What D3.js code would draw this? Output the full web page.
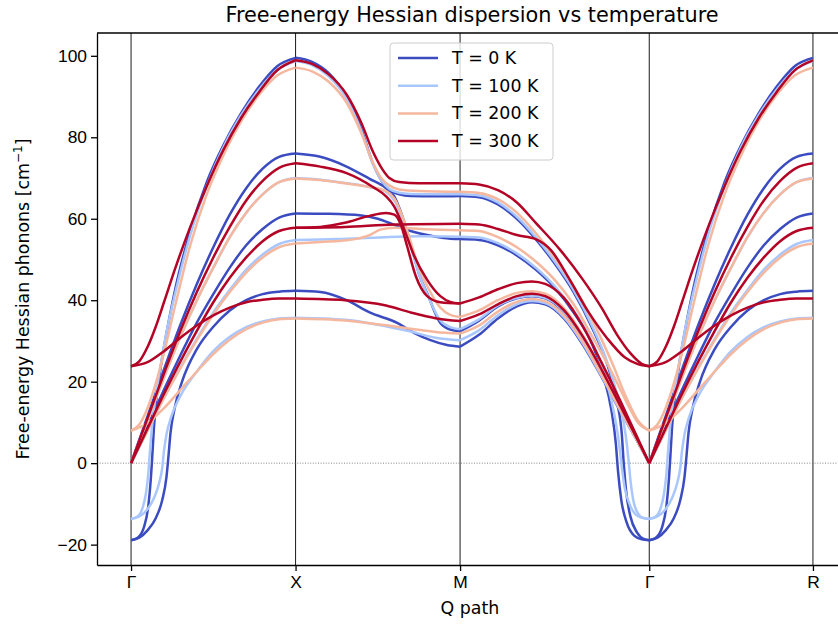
<!DOCTYPE html>
<html>
<head>
<meta charset="utf-8">
<style>
body { margin: 0; background: white; }
svg { font-family: "DejaVu Sans", sans-serif; }
.axis text { font-size: 17.4px; fill: black; }
.axis path, .axis line { stroke: black; stroke-width: 1.3; }
</style>
<script src="https://d3js.org/d3.v7.min.js"></script>
</head>
<body>
<svg id="chart" width="838" height="626"></svg>
<script>
// high-symmetry points along the q path
var qTicks = [0, 1, 2, 3.15, 4.145];
var tickLabels = ["Γ", "X", "M", "Γ", "R"];
var temps = [0, 100, 200, 300];
var colors = ["#3b4cc0", "#aac7fd", "#f5b89e", "#b40426"];

// each band: [fraction along segment, frequency in cm^-1]
// Γ -> X  (the Γ -> R leg reads the same in the picture)
var gxT0 = [
 [[0,-18.9],[.04,-18.3],[.08,-15.5],[.105,-10.5],[.12,-4],[.128,1],[.138,8],[.155,16],[.19,26],[.23,35],[.27,43],[.36,57],[.46,69],[.56,78],[.67,86],[.78,92.5],[.89,97.5],[1,99.5]],
 [[0,0],[.1,11.5],[.2,23],[.3,34],[.4,44],[.5,53],[.6,61],[.7,67.5],[.8,72.3],[.9,75.2],[1,76]],
 [[0,0],[.1,9],[.2,18],[.3,26.5],[.4,34.5],[.5,41.5],[.6,48],[.7,53.5],[.8,57.5],[.9,60.3],[1,61.3]],
 [[0,-18.9],[.05,-18.3],[.1,-16.5],[.15,-13.5],[.19,-9],[.215,-3.5],[.228,2],[.24,7.5],[.265,13.5],[.31,20],[.4,28],[.5,33.5],[.6,37.5],[.7,40],[.8,41.5],[.9,42.1],[1,42.3]]
];
var gxT100 = [
 [[0,-13.7],[.04,-13.1],[.07,-11],[.09,-7.5],[.105,-2.5],[.113,2],[.125,8],[.145,15],[.18,24],[.22,33],[.27,42],[.36,56],[.46,68],[.56,77.5],[.67,85.5],[.78,91.8],[.89,96.5],[1,98.7]],
 [[0,0],[.1,10.5],[.2,21],[.3,31],[.4,40],[.5,48],[.6,55.5],[.7,61.5],[.8,66],[.9,69],[1,70]],
 [[0,0],[.1,8],[.2,16],[.3,23.5],[.4,30.5],[.5,37],[.6,42.5],[.7,47.5],[.8,51.2],[.9,53.8],[1,54.8]],
 [[0,-13.7],[.05,-13.1],[.1,-11.3],[.14,-8.5],[.17,-5],[.19,-1],[.2,3],[.215,7],[.245,11.5],[.3,16.5],[.4,22.5],[.5,27.5],[.6,31],[.7,33.4],[.8,34.8],[.9,35.5],[1,35.7]]
];
var gxT200 = [
 [[0,8],[.05,9.5],[.1,13.5],[.15,19.5],[.2,27],[.27,39],[.36,53.5],[.46,66],[.56,75.5],[.67,84],[.78,90.5],[.89,95.2],[1,97.1]],
 [[0,0],[.1,10.5],[.2,21],[.3,31],[.4,40],[.5,48],[.6,55.5],[.7,61.5],[.8,66],[.9,69],[1,69.9]],
 [[0,0],[.1,8],[.2,16],[.3,23.3],[.4,30.2],[.5,36.5],[.6,42],[.7,46.8],[.8,50.5],[.9,53],[1,53.9]],
 [[0,8],[.1,9.8],[.2,13.5],[.3,18],[.4,22.5],[.5,26.8],[.6,30.3],[.7,32.9],[.8,34.5],[.9,35.3],[1,35.5]]
];
var gxT300 = [
 [[0,23.8],[.05,25],[.1,28.5],[.15,33.5],[.2,39.5],[.27,48],[.36,58],[.46,68],[.56,76.8],[.67,84.8],[.78,91.2],[.89,96.5],[1,98.9]],
 [[0,0],[.1,11],[.2,22],[.3,32.5],[.4,42],[.5,50.5],[.6,58],[.7,64.5],[.8,69.3],[.9,72.5],[1,73.6]],
 [[0,0],[.1,8.5],[.2,17],[.3,25],[.4,32.5],[.5,39.5],[.6,45.5],[.7,50.5],[.8,54.5],[.9,57],[1,57.8]],
 [[0,23.8],[.1,24.8],[.2,27.5],[.3,30.8],[.4,33.8],[.5,36.3],[.6,38.2],[.7,39.5],[.8,40.1],[.9,40.4],[1,40.4]]
];

// X -> M
var xmT0 = [
 [[0,99.5],[.1,98.5],[.2,95.8],[.31,90],[.4,82],[.47,73.6],[.52,69.5],[.57,67],[.63,66],[.7,65.6],[.85,65.5],[1,65.6]],
 [[0,76],[.15,75.2],[.3,73],[.45,69.8],[.55,67.5],[.6,65.5],[.65,60.5],[.71,52.3],[.75,46.5],[.8,41.7],[.88,34.4],[.94,32.8],[1,32.4]],
 [[0,61.3],[.2,61.2],[.4,60.8],[.5,60],[.6,58.5],[.7,57],[.8,56],[.9,55.3],[1,55]],
 [[0,42.3],[.15,42],[.31,40],[.45,37],[.62,34.4],[.72,32],[.82,30.2],[.92,29],[1,28.6]]
];
var xmT100 = [
 [[0,98.7],[.1,97.7],[.2,95],[.31,89.5],[.4,81.5],[.47,73.5],[.52,69.5],[.57,67.3],[.63,66.4],[.7,66.1],[.85,66],[1,66]],
 [[0,70],[.15,69.6],[.3,68.8],[.45,67.8],[.55,66.6],[.6,64.5],[.65,60],[.71,52],[.75,46.5],[.8,41.5],[.88,35],[.94,33.4],[1,32.9]],
 [[0,54.8],[.25,55],[.5,55.4],[.75,55.7],[1,55.6]],
 [[0,35.7],[.3,35.2],[.5,34],[.7,32.3],[.85,30.8],[1,30.2]]
];
var xmT200 = [
 [[0,97.1],[.1,96.2],[.2,93.7],[.31,88.5],[.4,81],[.47,73.8],[.52,70],[.57,68.2],[.63,67.2],[.75,66.8],[1,66.6]],
 [[0,69.9],[.15,69.5],[.3,68.7],[.45,67.8],[.55,66.8],[.6,65],[.65,60.5],[.71,53],[.75,48],[.8,43.5],[.88,38.2],[.94,36.4],[1,35.9]],
 [[0,53.9],[.15,54.3],[.31,54.7],[.45,56],[.52,57.4],[.6,57.8],[.8,57.4],[1,57.2]],
 [[0,35.5],[.3,35],[.5,34.1],[.7,33],[.85,32.2],[1,31.8]]
];
var xmT300 = [
 [[0,98.9],[.1,98],[.2,95.5],[.31,90.5],[.4,83.5],[.47,76.5],[.53,72],[.57,70],[.63,69],[.75,68.7],[1,68.7]],
 [[0,73.6],[.15,72.8],[.31,71.2],[.47,67.8],[.55,65.5],[.6,63],[.65,58.5],[.72,51],[.8,45],[.88,41],[.94,39.6],[1,39.2]],
 [[0,57.8],[.15,58],[.3,59],[.45,60.7],[.55,61.4],[.6,61],[.64,58.5],[.68,53],[.73,46],[.8,41],[.88,39.5],[1,39.2]],
 [[0,57.8],[.3,58],[.6,58.6],[1,58.8]],
 [[0,40.4],[.3,40],[.55,38.7],[.7,37],[.85,35.6],[1,34.9]]
];

// M -> Γ
var mgT0 = [
 [[0,65.6],[.1,65.3],[.2,63.5],[.3,60],[.4,55],[.5,49],[.6,42],[.7,33],[.78,24],[.83,15],[.855,7],[.865,0],[.878,-7],[.9,-13],[.935,-17],[.97,-18.6],[1,-18.9]],
 [[0,55],[.1,54.8],[.2,53.5],[.3,51],[.4,47.5],[.5,43],[.6,37],[.7,29],[.76,21],[.8,13],[.823,5],[.835,-2],[.852,-9],[.88,-14.5],[.92,-17.8],[.96,-18.7],[1,-18.9]],
 [[0,32.4],[.1,35],[.2,38.5],[.3,40.5],[.38,41],[.45,40.5],[.55,37],[.65,30.5],[.75,22],[.85,13],[.93,6],[1,0]],
 [[0,28.6],[.1,31.5],[.2,35.5],[.3,38.5],[.38,39.5],[.45,39],[.55,35.5],[.65,29],[.75,21],[.85,12.5],[.93,6],[1,0]]
];
var mgT100 = [
 [[0,66],[.1,65.7],[.2,64],[.3,60.5],[.4,55.5],[.5,49.5],[.6,42.5],[.7,33.5],[.78,24.5],[.84,15],[.875,7],[.89,1],[.9,-4],[.915,-9],[.94,-12.3],[.97,-13.5],[1,-13.7]],
 [[0,55.6],[.1,55.4],[.2,54],[.3,51.5],[.4,48],[.5,43.5],[.6,37.5],[.7,29.5],[.77,21],[.815,12],[.84,5],[.855,-1],[.87,-6],[.9,-10.5],[.94,-13],[1,-13.7]],
 [[0,32.9],[.1,35.3],[.2,38.7],[.3,40.6],[.38,41.1],[.45,40.6],[.55,37.2],[.65,30.7],[.75,22.2],[.85,13.2],[.93,6.1],[1,0]],
 [[0,30.2],[.1,32.6],[.2,36.3],[.3,39],[.38,39.8],[.45,39.3],[.55,35.8],[.65,29.3],[.75,21.2],[.85,12.6],[.93,6],[1,0]]
];
var mgT200 = [
 [[0,66.6],[.1,66.3],[.2,64.8],[.3,61.5],[.4,56.5],[.5,50.5],[.6,43.5],[.7,35],[.8,25],[.88,16],[.94,10.5],[1,8]],
 [[0,57.2],[.1,57],[.2,55.5],[.3,53],[.4,49.5],[.5,45],[.6,39],[.7,31],[.8,22.5],[.88,15],[.94,10],[1,8]],
 [[0,35.9],[.1,37.5],[.2,40],[.3,41.8],[.38,42.2],[.45,41.6],[.55,38],[.65,31.3],[.75,22.7],[.85,13.5],[.93,6.3],[1,0]],
 [[0,31.8],[.1,33.8],[.2,37.2],[.3,39.6],[.38,40.3],[.45,39.7],[.55,36.2],[.65,29.7],[.75,21.5],[.85,12.8],[.93,6.1],[1,0]]
];
var mgT300 = [
 [[0,68.7],[.1,68.4],[.2,67],[.3,64],[.4,59],[.53,52.3],[.65,45],[.75,38],[.83,31.5],[.9,27],[.96,24.4],[1,23.8]],
 [[0,58.8],[.1,58.6],[.2,57.5],[.3,56],[.4,55],[.48,52.3],[.58,45],[.68,37],[.78,30.5],[.87,26],[.94,24.3],[1,23.8]],
 [[0,39.2],[.1,40.7],[.2,42.7],[.3,44.2],[.38,44.6],[.45,44],[.55,40.5],[.65,33.5],[.75,24.5],[.85,15],[.93,7],[1,0]],
 [[0,34.9],[.1,36.5],[.2,39],[.3,41],[.38,41.6],[.45,41],[.55,37.5],[.65,31],[.75,22.8],[.85,13.8],[.93,6.5],[1,0]]
];

var bands = {
  GX: [gxT0, gxT100, gxT200, gxT300],
  XM: [xmT0, xmT100, xmT200, xmT300],
  MG: [mgT0, mgT100, mgT200, mgT300]
};
// legs of the path: [start tick, end tick, band table]
var legs = [[0, 1, "GX"], [1, 2, "XM"], [2, 3, "MG"], [3, 4, "GX"]];

var svg = d3.select("#chart");
var pLeft = 97, pRight = 847, pTop = 33, pBottom = 565;

var x = d3.scaleLinear().domain([-0.207, 4.352]).range([pLeft, pRight]);
var y = d3.scaleLinear().domain([-25.0, 105.6]).range([pBottom, pTop]);

// vertical lines at the high-symmetry points
svg.append("g").selectAll("line").data(qTicks).enter().append("line")
  .attr("x1", d => x(d)).attr("x2", d => x(d))
  .attr("y1", pTop).attr("y2", pBottom)
  .attr("stroke", "black").attr("stroke-width", 0.9);

// zero line
svg.append("line")
  .attr("x1", pLeft).attr("x2", pRight).attr("y1", y(0)).attr("y2", y(0))
  .attr("stroke", "#666").attr("stroke-width", 0.8).attr("stroke-dasharray", "1,1.6");

var line = d3.line()
  .x(d => x(d[0]))
  .y(d => y(d[1]))
  .curve(d3.curveMonotoneX);

temps.forEach(function(T, k) {
  legs.forEach(function(leg) {
    var q0 = qTicks[leg[0]], q1 = qTicks[leg[1]];
    bands[leg[2]][k].forEach(function(b) {
      svg.append("path")
        .datum(b.map(p => [q0 + p[0] * (q1 - q0), p[1]]))
        .attr("fill", "none")
        .attr("stroke", colors[k])
        .attr("stroke-width", 2.5)
        .attr("stroke-linejoin", "round")
        .attr("d", line);
    });
  });
});

// axes
svg.append("g").attr("class", "axis")
  .attr("transform", "translate(" + pLeft + ",0)")
  .call(d3.axisLeft(y).tickValues([-20, 0, 20, 40, 60, 80, 100]).tickSize(6).tickSizeOuter(0).tickPadding(4));

svg.append("g").attr("class", "axis")
  .attr("transform", "translate(0," + pBottom + ")")
  .call(d3.axisBottom(x).tickValues(qTicks).tickFormat((d, i) => tickLabels[i]).tickSize(6).tickSizeOuter(0).tickPadding(5));

svg.append("line").attr("x1", pLeft).attr("x2", pRight).attr("y1", pTop).attr("y2", pTop)
  .attr("stroke", "black").attr("stroke-width", 1.3);

// titles
svg.append("text").attr("x", 472).attr("y", 22).attr("text-anchor", "middle")
  .style("font-size", "20.8px").text("Free-energy Hessian dispersion vs temperature");

svg.append("text").attr("x", 470).attr("y", 614).attr("text-anchor", "middle")
  .style("font-size", "17.4px").text("Q path");

svg.append("text").attr("transform", "translate(29," + ((pTop + pBottom) / 2) + ") rotate(-90)")
  .attr("text-anchor", "middle").style("font-size", "17.4px")
  .html("Free-energy Hessian phonons [cm<tspan dy='-7' font-size='12px'>−1</tspan><tspan dy='7'>]</tspan>");

// legend
var lg = svg.append("g").attr("transform", "translate(390,43)");
lg.append("rect").attr("width", 163).attr("height", 117).attr("rx", 3.5)
  .attr("fill", "white").attr("fill-opacity", 0.8).attr("stroke", "#cccccc").attr("stroke-width", 1);
temps.forEach(function(T, k) {
  var ly = 15 + k * 27.7;
  lg.append("line").attr("x1", 8).attr("x2", 48).attr("y1", ly).attr("y2", ly)
    .attr("stroke", colors[k]).attr("stroke-width", 2.5);
  lg.append("text").attr("x", 62).attr("y", ly + 6).style("font-size", "17.4px")
    .text("T = " + T + " K");
});
</script>
</body>
</html>
